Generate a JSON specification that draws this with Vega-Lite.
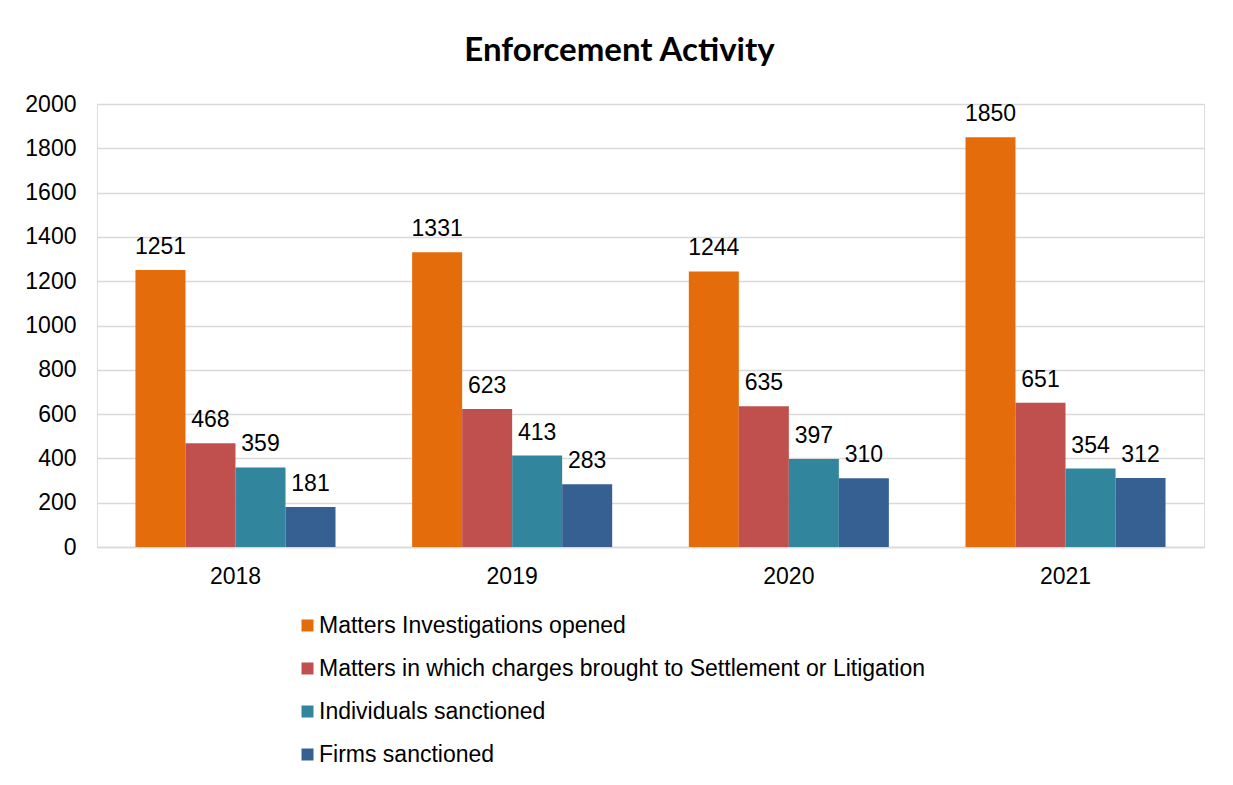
{
  "$schema": "https://vega.github.io/schema/vega-lite/v6.json",
  "width": 1107,
  "height": 443,
  "autosize": {"type": "none"},
  "padding": {"left": 97, "top": 104, "right": 29, "bottom": 238},
  "background": "white",
  "title": {
    "text": "Enforcement Activity",
    "font": "Lato",
    "fontWeight": "bold",
    "fontSize": 33,
    "color": "#000000",
    "anchor": "middle",
    "dx": -31,
    "offset": 25
  },
  "data": {
    "values": [
      {"year": "2018", "series": "Matters Investigations opened", "value": 1251},
      {"year": "2018", "series": "Matters in which charges brought to Settlement or Litigation", "value": 468},
      {"year": "2018", "series": "Individuals sanctioned", "value": 359},
      {"year": "2018", "series": "Firms sanctioned", "value": 181},
      {"year": "2019", "series": "Matters Investigations opened", "value": 1331},
      {"year": "2019", "series": "Matters in which charges brought to Settlement or Litigation", "value": 623},
      {"year": "2019", "series": "Individuals sanctioned", "value": 413},
      {"year": "2019", "series": "Firms sanctioned", "value": 283},
      {"year": "2020", "series": "Matters Investigations opened", "value": 1244},
      {"year": "2020", "series": "Matters in which charges brought to Settlement or Litigation", "value": 635},
      {"year": "2020", "series": "Individuals sanctioned", "value": 397},
      {"year": "2020", "series": "Firms sanctioned", "value": 310},
      {"year": "2021", "series": "Matters Investigations opened", "value": 1850},
      {"year": "2021", "series": "Matters in which charges brought to Settlement or Litigation", "value": 651},
      {"year": "2021", "series": "Individuals sanctioned", "value": 354},
      {"year": "2021", "series": "Firms sanctioned", "value": 312}
    ]
  },
  "encoding": {
    "x": {
      "field": "year",
      "type": "nominal",
      "scale": {"paddingInner": 0.277, "paddingOuter": 0.139},
      "axis": {
        "title": null,
        "labelAngle": 0,
        "ticks": false,
        "domainColor": "#d9d9d9",
        "domainWidth": 1.5,
        "labelFont": "Liberation Sans",
        "labelFontSize": 23,
        "labelColor": "#000000",
        "labelPadding": 18
      }
    },
    "xOffset": {
      "field": "series",
      "type": "nominal",
      "sort": ["Matters Investigations opened", "Matters in which charges brought to Settlement or Litigation", "Individuals sanctioned", "Firms sanctioned"],
      "scale": {"paddingInner": 0, "paddingOuter": 0}
    },
    "y": {
      "field": "value",
      "type": "quantitative",
      "scale": {"domain": [0, 2000]},
      "axis": {
        "title": null,
        "values": [0, 200, 400, 600, 800, 1000, 1200, 1400, 1600, 1800, 2000],
        "format": "d",
        "ticks": false,
        "domain": false,
        "gridColor": "#d9d9d9",
        "gridWidth": 1.5,
        "labelFont": "Liberation Sans",
        "labelFontSize": 23,
        "labelColor": "#000000",
        "labelPadding": 21
      }
    }
  },
  "layer": [
    {
      "mark": {"type": "bar"},
      "encoding": {
        "color": {
          "field": "series",
          "type": "nominal",
          "sort": ["Matters Investigations opened", "Matters in which charges brought to Settlement or Litigation", "Individuals sanctioned", "Firms sanctioned"],
          "scale": {
            "domain": ["Matters Investigations opened", "Matters in which charges brought to Settlement or Litigation", "Individuals sanctioned", "Firms sanctioned"],
            "range": ["#E46C0A", "#C0504D", "#31859C", "#376092"]
          },
          "legend": {
            "title": null,
            "orient": "none",
            "legendX": 199,
            "legendY": 510,
            "direction": "vertical",
            "symbolType": "square",
            "symbolSize": 144,
            "symbolStrokeWidth": 0,
            "symbolOpacity": 1,
            "labelFont": "Liberation Sans",
            "labelFontSize": 23,
            "labelColor": "#000000",
            "labelOffset": 0,
            "labelLimit": 900,
            "rowPadding": 19
          }
        }
      }
    },
    {
      "mark": {"type": "text", "baseline": "alphabetic", "dy": -16, "font": "Liberation Sans", "fontSize": 23, "color": "#000000"},
      "encoding": {
        "text": {"field": "value", "type": "quantitative"}
      }
    }
  ]
}
